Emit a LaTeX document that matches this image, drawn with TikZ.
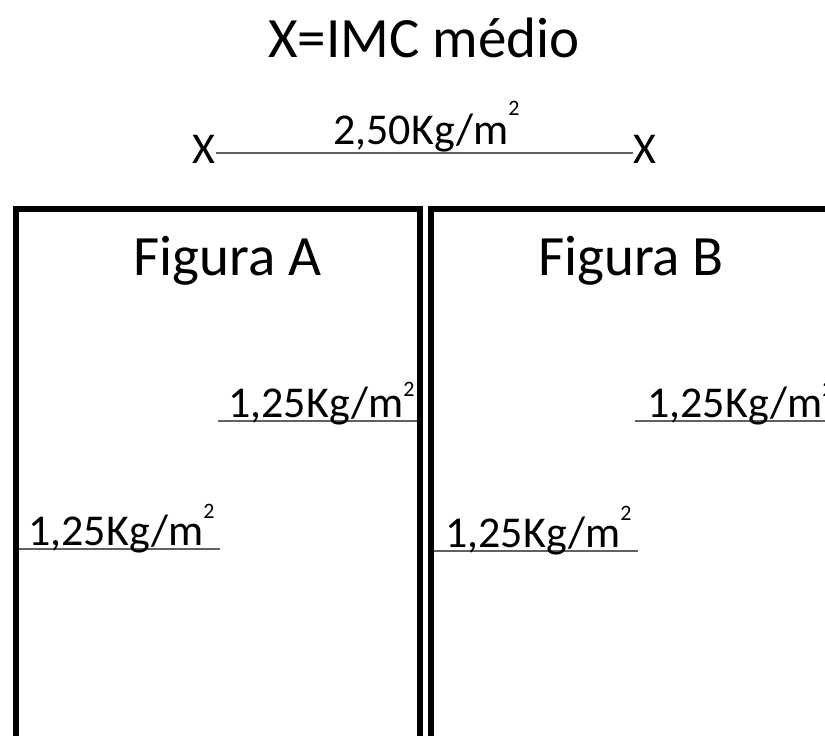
\documentclass[tikz,border=0pt]{standalone}
\usepackage{fontspec}
\setmainfont{Carlito}
\newcommand{\grande}{\fontsize{57}{60}\selectfont}
\newcommand{\medio}{\fontsize{44}{48}\selectfont}
\newcommand{\kgm}[2][27pt]{#2Kg/m\raisebox{#1}{\fontsize{22}{22}\selectfont 2}}

\begin{document}
\begin{tikzpicture}[x=1pt,y=-1pt,
    caixa/.style={draw=black,line width=6pt},
    cota/.style={draw=black!62,line width=2pt},
    rotulo/.style={inner sep=0pt,anchor=base west,font=\medio},
    titulo/.style={inner sep=0pt,anchor=base,font=\grande}]
    \useasboundingbox (0,0) rectangle (825,736);
    \clip (0,0) rectangle (825,736);

    \node[titulo] (imc) at (424,57) {X=IMC médio};
    \node[rotulo,anchor=base] (xa) at (204,163) {X};
    \node[rotulo,anchor=base] (xb) at (645,163) {X};
    \draw[cota] ([yshift=10pt]xa.base east) -- ([yshift=10pt]xb.base west);
    \node[rotulo] (dif) at (333,144) {\kgm[29pt]{2,50}};

    \coordinate (a1i) at (218,421); \coordinate (a1f) at (420,421);
    \coordinate (a2i) at (16,549);  \coordinate (a2f) at (220,549);
    \coordinate (b1i) at (635,421); \coordinate (b1f) at (835,421);
    \coordinate (b2i) at (431,551); \coordinate (b2f) at (638,551);
    \draw[cota] (a1i) -- (a1f);
    \draw[cota] (a2i) -- (a2f);
    \draw[cota] (b1i) -- (b1f);
    \draw[cota] (b2i) -- (b2f);
    \node[rotulo] (a1) at (228,417) {\kgm[21pt]{1,25}};
    \node[rotulo] (a2) at (28,545) {\kgm{1,25}};
    \node[rotulo] (b1) at (647,417) {\kgm[21pt]{1,25}};
    \node[rotulo] (b2) at (445,547) {\kgm{1,25}};

    \draw[caixa] (16,208.5) rectangle (420,800);
    \draw[caixa] (431,208.5) rectangle (835,800);
    \node[titulo] (figa) at (227.5,275) {Figura A};
    \node[titulo] (figb) at (631,275) {Figura B};
\end{tikzpicture}
\end{document}
